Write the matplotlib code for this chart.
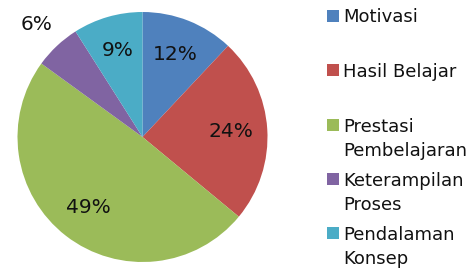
import numpy as np
import matplotlib
matplotlib.use("Agg")
import matplotlib.pyplot as plt
from matplotlib.patches import Rectangle

categories = ["Motivasi", "Hasil Belajar", "Prestasi\nPembelajaran",
              "Keterampilan\nProses", "Pendalaman\nKonsep"]
values = [12, 24, 49, 6, 9]
colors = ["#4F81BD", "#C0504D", "#9BBB59", "#8064A2", "#4BACC6"]

W, H = 475, 271
plt.rcParams["font.family"] = ["DejaVu Sans"]

fig = plt.figure(figsize=(W / 100, H / 100), dpi=100)
fig.patch.set_facecolor("white")


def px(x, y):
    # pixel (from top-left) -> figure fraction
    return x / W, 1 - y / H


# pie, centre (142.5, 137), radius 125 px
cx, cy, r = 142.5, 137, 125
ax = fig.add_axes([(cx - r) / W, (H - cy - r) / H, 2 * r / W, 2 * r / H])
wedges, _ = ax.pie(values, colors=colors, startangle=90, counterclock=False,
                   radius=1, wedgeprops=dict(linewidth=0))
ax.set_xlim(-1, 1)
ax.set_ylim(-1, 1)
ax.set_aspect("equal")
ax.axis("off")

# percentage labels
label_dist = [0.71, 0.71, 0.71, 1.24, 0.72]
total = sum(values)
for w, v, d in zip(wedges, values, label_dist):
    mid = np.deg2rad((w.theta1 + w.theta2) / 2)
    ax.text(d * np.cos(mid), d * np.sin(mid), "%d%%" % round(100 * v / total),
            ha="center", va="center", fontsize=14.5, color="#111111")

# legend drawn Excel-style: marker aligned to the first line
first_line_y = [16, 70, 125, 179, 233]
line_gap = 25
for lab, col, y0 in zip(categories, colors, first_line_y):
    sx, sy = px(327, y0 + 6)
    fig.add_artist(Rectangle((sx, sy), 12 / W, 12 / H, transform=fig.transFigure,
                             facecolor=col, edgecolor="none"))
    for k, line in enumerate(lab.split("\n")):
        tx, ty = px(343, y0 + 6.5 + k * line_gap)
        fig.text(tx, ty, line, ha="left", va="baseline", fontsize=13,
                 color="#111111")

fig.savefig("out.png", dpi=100)
